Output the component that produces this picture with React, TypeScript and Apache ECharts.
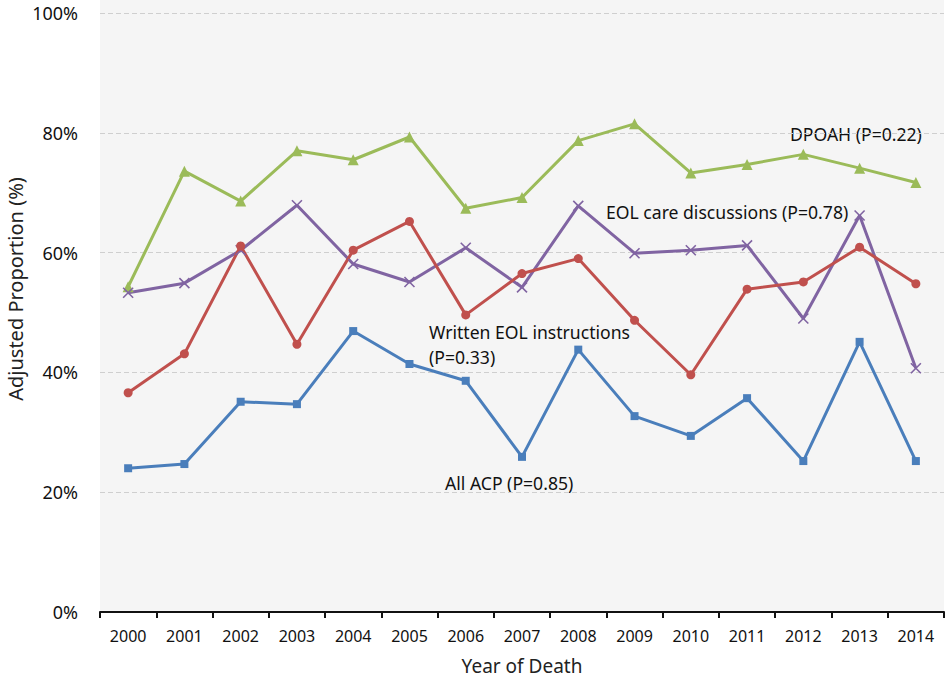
import React, { useEffect, useRef } from "react";
import * as echarts from "echarts";

const years = ["2000","2001","2002","2003","2004","2005","2006","2007","2008","2009","2010","2011","2012","2013","2014"];
const dpoah = [54.3, 73.6, 68.6, 77.0, 75.5, 79.3, 67.4, 69.2, 78.7, 81.5, 73.3, 74.7, 76.4, 74.1, 71.7];
const eolDiscussions = [53.3, 54.9, 60.4, 67.9, 58.1, 55.1, 60.8, 54.2, 67.8, 59.9, 60.4, 61.2, 49.0, 66.2, 40.7];
const writtenEol = [36.6, 43.1, 61.1, 44.7, 60.4, 65.2, 49.6, 56.5, 59.0, 48.7, 39.6, 53.9, 55.1, 60.9, 54.8];
const allAcp = [24.0, 24.7, 35.1, 34.7, 46.9, 41.4, 38.6, 25.9, 43.8, 32.7, 29.4, 35.7, 25.2, 45.1, 25.2];
const yTicks = [0, 20, 40, 60, 80, 100];

const FONT = "'Noto Sans', 'Open Sans', sans-serif";

export default function App() {
  const ref = useRef<HTMLDivElement>(null);
  useEffect(() => {
    const chart = echarts.init(ref.current!, null, { renderer: "svg" });
    const mk = (name: string, data: number[], color: string, symbol: string, size: number, extra: any = {}) => ({
      name,
      type: "line",
      data,
      symbol,
      symbolSize: size,
      lineStyle: { color, width: 3 },
      itemStyle: { color, borderColor: color, borderWidth: 0, ...extra },
      z: 3,
    });
    const label = (x: number, y: number, text: string) => ({
      type: "text",
      x,
      y,
      style: { text, fontSize: 17.6, fontFamily: FONT, fill: "#111", lineHeight: 25, textVerticalAlign: "middle" },
    });
    chart.setOption({
      animation: false,
      backgroundColor: "#ffffff",
      textStyle: { fontFamily: FONT },
      grid: { left: 100, right: 6, top: 13, bottom: 72, containLabel: false, outerBoundsMode: "none" },
      graphic: [
        { type: "rect", z: -10, silent: true, shape: { x: 100, y: 0, width: 844, height: 612 }, style: { fill: "#f5f5f5" } },
        label(790, 134, "DPOAH (P=0.22)"),
        label(606, 212, "EOL care discussions (P=0.78)"),
        label(429, 344.5, "Written EOL instructions\n(P=0.33)"),
        label(445, 483, "All ACP (P=0.85)"),
        {
          type: "text",
          x: 15,
          y: 289,
          rotation: Math.PI / 2,
          style: { text: "Adjusted Proportion (%)", fontSize: 20, fontFamily: FONT, fill: "#222", textAlign: "center", textVerticalAlign: "middle" },
        },
      ],
      xAxis: {
        type: "category",
        data: years,
        boundaryGap: true,
        name: "Year of Death",
        nameLocation: "middle",
        nameGap: 44,
        nameTextStyle: { fontSize: 19, color: "#222", fontFamily: FONT },
        axisLine: { lineStyle: { color: "#111", width: 2 } },
        axisTick: { show: true, alignWithLabel: false, length: 6, lineStyle: { color: "#111", width: 2 } },
        axisLabel: { fontSize: 16, color: "#111", margin: 16, fontFamily: FONT },
        splitLine: { show: false },
      },
      yAxis: {
        type: "value",
        min: 0,
        max: 100,
        interval: 20,
        axisLine: { show: false },
        axisTick: { show: false },
        axisLabel: {
          fontSize: 18,
          color: "#111",
          margin: 22,
          fontFamily: FONT,
          formatter: (v: number) => (yTicks.includes(v) ? `${v}%` : ""),
        },
        splitLine: { show: true, lineStyle: { color: "#cfcfcf", type: [5, 3], width: 1 } },
      },
      series: [
        mk("DPOAH", dpoah, "#9bbb59", "triangle", 11),
        mk("EOL care discussions", eolDiscussions, "#8064a2", "path://M0,0L10,10M10,0L0,10", 10, { borderWidth: 1.6, color: "#8064a2" }),
        mk("Written EOL instructions", writtenEol, "#c0504d", "circle", 9),
        mk("All ACP", allAcp, "#4a7ebb", "rect", 8),
      ],
    });
    return () => chart.dispose();
  }, []);
  return <div ref={ref} style={{ position: "fixed", left: 0, top: 0, width: 950, height: 684 }} />;
}
